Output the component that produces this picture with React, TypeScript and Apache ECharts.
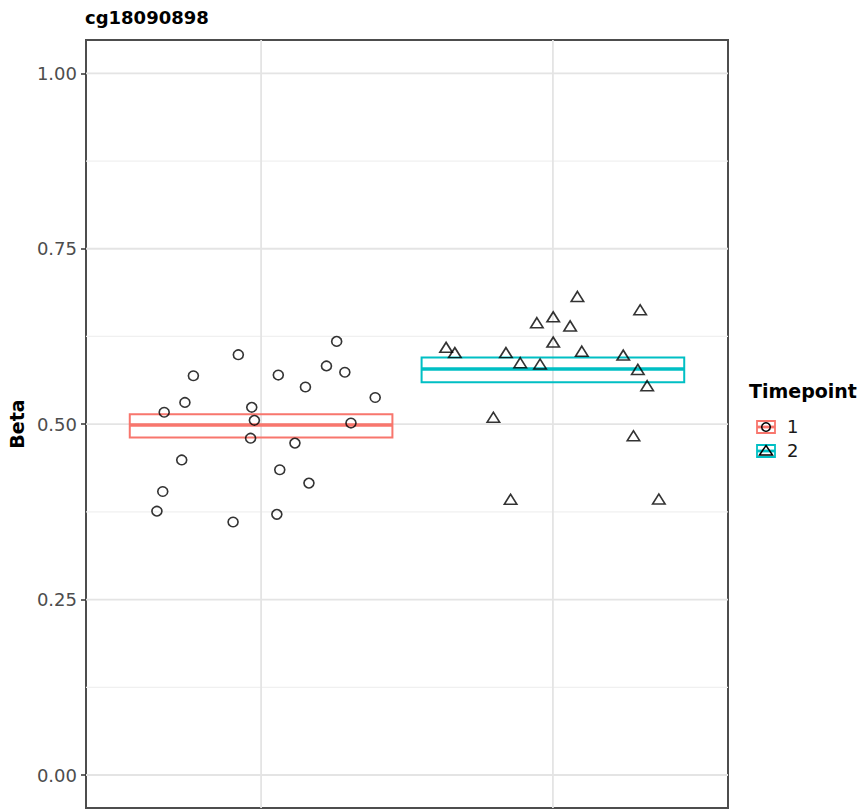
import React, { useEffect, useRef } from "react";
import * as echarts from "echarts";

const chartTitle = "cg18090898";
const yAxisTitle = "Beta";
const legendTitle = "Timepoint";
const groups = ["1", "2"];
const groupColors = ["#F8766D", "#00BFC4"];

const yTicks = [0, 0.25, 0.5, 0.75, 1];
const yMinorTicks = [0.125, 0.375, 0.625, 0.875];
const xTicks = [1, 2];

// crossbar summaries per timepoint
const boxCenter = [1, 2];
const boxLower = [0.481, 0.5596];
const boxMedian = [0.4988, 0.5786];
const boxUpper = [0.514, 0.595];

// jittered points, timepoint 1
const t1X = [1.259, 0.922, 0.768, 1.059, 1.224, 1.287, 1.152, 1.391, 0.739, 0.668, 0.968, 0.977, 1.308, 0.964, 1.116, 0.728, 1.064, 1.164, 0.663, 0.643, 1.054, 0.904];
const t1Y = [0.618, 0.599, 0.569, 0.570, 0.583, 0.574, 0.553, 0.538, 0.531, 0.517, 0.524, 0.5055, 0.5016, 0.480, 0.473, 0.449, 0.435, 0.416, 0.404, 0.376, 0.3715, 0.3606];

// jittered points, timepoint 2
const t2X = [2.084, 2.299, 2.001, 1.945, 2.059, 2.001, 1.634, 1.664, 1.839, 2.099, 2.241, 1.888, 1.956, 2.291, 2.323, 1.796, 2.276, 1.855, 2.363];
const t2Y = [0.682, 0.663, 0.653, 0.6446, 0.640, 0.617, 0.6095, 0.602, 0.602, 0.604, 0.5985, 0.5876, 0.5857, 0.578, 0.5548, 0.5098, 0.4835, 0.393, 0.3933];

const FONT = "DejaVu Sans";
const X_MIN = 0.4;
const X_MAX = 2.6;
const Y_MIN = -0.047;
const Y_MAX = 1.0475;

export default function App() {
  const ref = useRef<HTMLDivElement>(null);

  useEffect(() => {
    if (!ref.current) return;
    const chart = echarts.init(ref.current, undefined, { renderer: "svg" });

    const gridData: number[][] = [
      ...yTicks.map((v) => [0, v]),
      ...yMinorTicks.map((v) => [1, v]),
      ...xTicks.map((v) => [2, v]),
    ];

    const boxData = boxCenter.map((c, i) => [c, boxLower[i], boxMedian[i], boxUpper[i]]);

    const legendKeyY = [427, 451];
    const legendGraphics: any[] = [
      {
        type: "text",
        left: 749,
        top: 381,
        style: { text: legendTitle, font: `bold 19px "${FONT}"`, fill: "#000" },
      },
    ];
    groups.forEach((g, i) => {
      const cy = legendKeyY[i];
      const col = groupColors[i];
      legendGraphics.push({
        type: "rect",
        shape: { x: 757, y: cy - 6, width: 18, height: 12 },
        style: { fill: "none", stroke: col, lineWidth: 1.8 },
      });
      legendGraphics.push({
        type: "line",
        shape: { x1: 757, y1: cy, x2: 775, y2: cy },
        style: { stroke: col, lineWidth: 2.8 },
      });
      if (i === 0) {
        legendGraphics.push({
          type: "circle",
          shape: { cx: 766, cy, r: 4.3 },
          style: { fill: "none", stroke: "#000", lineWidth: 1.5 },
        });
      } else {
        legendGraphics.push({
          type: "polygon",
          shape: { points: [[766, cy - 5.5], [772.5, cy + 4], [759.5, cy + 4]] },
          style: { fill: "none", stroke: "#000", lineWidth: 1.5 },
        });
      }
      legendGraphics.push({
        type: "text",
        left: 787,
        top: cy - 10,
        style: { text: g, font: `18px "${FONT}"`, fill: "#1a1a1a" },
      });
    });

    const option: any = {
      animation: false,
      backgroundColor: "#ffffff",
      title: {
        text: chartTitle,
        left: 85,
        top: 8,
        padding: 0,
        textStyle: { fontFamily: FONT, fontWeight: "bold", fontSize: 18, color: "#000" },
      },
      grid: {
        left: 86,
        top: 40,
        width: 642,
        height: 768,
        show: true,
        borderColor: "#4d4d4d",
        borderWidth: 2,
        backgroundColor: "#ffffff",
        containLabel: false,
        outerBoundsMode: "none",
      },
      xAxis: {
        type: "value",
        min: X_MIN,
        max: X_MAX,
        axisLine: { show: false },
        axisTick: { show: false },
        axisLabel: { show: false },
        splitLine: { show: false },
      },
      yAxis: {
        type: "value",
        min: Y_MIN,
        max: Y_MAX,
        name: yAxisTitle,
        nameLocation: "middle",
        nameRotate: 90,
        nameGap: 58,
        nameTextStyle: { fontFamily: FONT, fontWeight: "bold", fontSize: 19, color: "#000" },
        axisLine: { show: false },
        axisTick: {
          show: true,
          length: 5,
          customValues: yTicks,
          lineStyle: { color: "#333333", width: 1.5 },
        },
        axisLabel: {
          show: true,
          customValues: yTicks,
          margin: 9,
          fontFamily: FONT,
          fontSize: 18,
          color: "#4d4d4d",
          formatter: (v: number) => v.toFixed(2),
        },
        splitLine: { show: false },
      },
      graphic: legendGraphics,
      series: [
        {
          type: "custom",
          z: 0,
          silent: true,
          data: gridData,
          renderItem: (params: any, api: any) => {
            const kind = api.value(0);
            const v = api.value(1);
            let a, b;
            if (kind === 2) {
              a = api.coord([v, Y_MIN]);
              b = api.coord([v, Y_MAX]);
            } else {
              a = api.coord([X_MIN, v]);
              b = api.coord([X_MAX, v]);
            }
            return {
              type: "line",
              shape: { x1: a[0], y1: a[1], x2: b[0], y2: b[1] },
              style: {
                stroke: kind === 1 ? "#f0f0f0" : "#e4e4e4",
                lineWidth: kind === 1 ? 1.2 : 1.8,
              },
            };
          },
        },
        {
          type: "custom",
          z: 2,
          silent: true,
          data: boxData,
          renderItem: (params: any, api: any) => {
            const x = api.value(0);
            const lo = api.value(1);
            const mid = api.value(2);
            const hi = api.value(3);
            const p1 = api.coord([x - 0.45, hi]);
            const p2 = api.coord([x + 0.45, lo]);
            const m1 = api.coord([x - 0.45, mid]);
            const m2 = api.coord([x + 0.45, mid]);
            const col = groupColors[params.dataIndex];
            return {
              type: "group",
              children: [
                {
                  type: "rect",
                  shape: { x: p1[0], y: p1[1], width: p2[0] - p1[0], height: p2[1] - p1[1] },
                  style: { fill: "none", stroke: col, lineWidth: 2 },
                },
                {
                  type: "line",
                  shape: { x1: m1[0], y1: m1[1], x2: m2[0], y2: m2[1] },
                  style: { stroke: col, lineWidth: 3.6 },
                },
              ],
            };
          },
        },
        {
          type: "scatter",
          name: groups[0],
          z: 3,
          symbol: "circle",
          symbolSize: [10, 9.5],
          itemStyle: { color: "rgba(0,0,0,0)", borderColor: "#000", borderWidth: 1.6 },
          data: t1X.map((x, i) => [x, t1Y[i]]),
        },
        {
          type: "scatter",
          name: groups[1],
          z: 3,
          symbol: "triangle",
          symbolSize: [12.5, 10],
          itemStyle: { color: "rgba(0,0,0,0)", borderColor: "#000", borderWidth: 1.6 },
          data: t2X.map((x, i) => [x, t2Y[i]]),
        },
      ],
    };

    chart.setOption(option);
    return () => chart.dispose();
  }, []);

  return (
    <div
      ref={ref}
      style={{ position: "fixed", left: 0, top: 0, width: 865, height: 810, background: "#fff" }}
    />
  );
}
